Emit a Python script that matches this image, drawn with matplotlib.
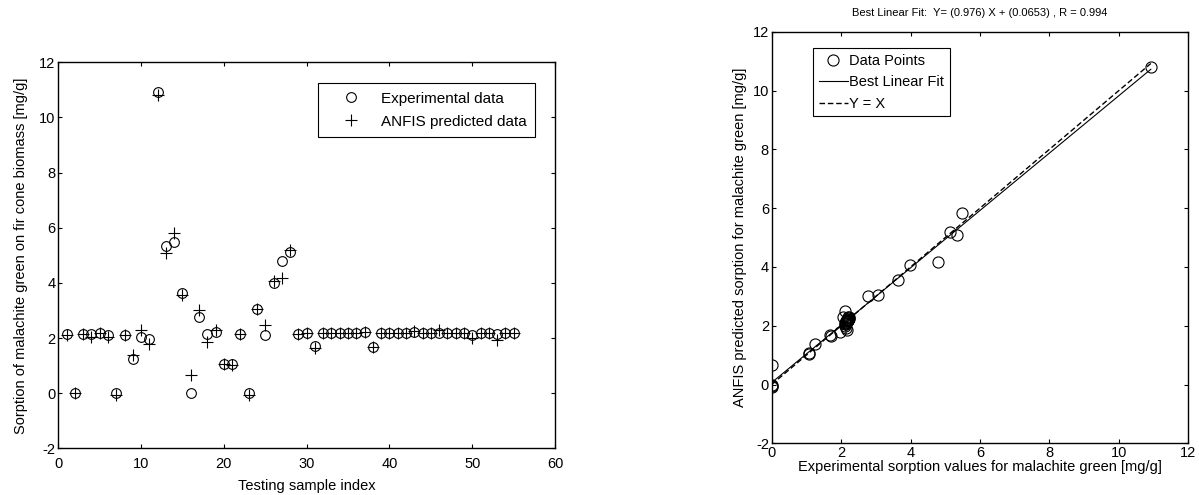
import numpy as np
import matplotlib.pyplot as plt

plt.rcParams['font.family'] = ['Liberation Sans', 'DejaVu Sans']
plt.rcParams['axes.unicode_minus'] = False

# measured vs ANFIS predicted sorption (mg/g) for the 55 testing samples
sample_idx = list(range(1, 56))
exp_data = [2.13, 0.0, 2.15, 2.15, 2.2, 2.1, 0.0, 2.1, 1.25, 2.04,
            1.96, 10.92, 5.33, 5.49, 3.64, 0.0, 2.76, 2.16, 2.22, 1.07,
            1.07, 2.15, 0.0, 3.05, 2.1, 3.98, 4.79, 5.13, 2.13, 2.2,
            1.71, 2.2, 2.18, 2.18, 2.2, 2.2, 2.22, 1.67, 2.2, 2.2,
            2.18, 2.2, 2.22, 2.18, 2.2, 2.2, 2.18, 2.2, 2.2, 2.1,
            2.2, 2.18, 2.15, 2.2, 2.2]
anfis_data = [2.1, 0.0, 2.15, 2.05, 2.2, 2.05, -0.08, 2.1, 1.38, 2.28,
              1.77, 10.8, 5.07, 5.82, 3.55, 0.67, 3.0, 1.86, 2.3, 1.07,
              1.03, 2.15, -0.05, 3.05, 2.49, 4.07, 4.18, 5.19, 2.13, 2.2,
              1.65, 2.2, 2.18, 2.18, 2.2, 2.2, 2.22, 1.67, 2.2, 2.2,
              2.18, 2.2, 2.26, 2.18, 2.2, 2.3, 2.18, 2.2, 2.2, 2.0,
              2.2, 2.18, 1.92, 2.2, 2.2]

# regression results
fit_slope = 0.976
fit_icpt = 0.0653
fit_r = 0.994


def matlab_axes(ax):
    ax.tick_params(direction='in', top=True, right=True, length=3,
                   width=0.8, labelsize=10.5, pad=2)
    for sp in ax.spines.values():
        sp.set_linewidth(1.0)


fig = plt.figure(figsize=(11.99, 4.95), dpi=100)

# left panel: sample index vs sorption
ax1 = fig.add_axes([0.0486, 0.0943, 0.4143, 0.7798])
ax1.plot(sample_idx, exp_data, 'o', mfc='none', mec='black', ms=7,
         mew=0.8, label='Experimental data')
ax1.plot(sample_idx, anfis_data, '+', color='black', ms=8, mew=0.8,
         label='ANFIS predicted data')
ax1.set_xlim(0, 60)
ax1.set_ylim(-2, 12)
ax1.set_xticks(range(0, 61, 10))
ax1.set_yticks(range(-2, 13, 2))
matlab_axes(ax1)
ax1.tick_params(axis='x', pad=6)
ax1.set_xlabel('Testing sample index', fontsize=10.5, labelpad=6)
ax1.set_ylabel('Sorption of malachite green on fir cone biomass [mg/g]',
               fontsize=10.5, labelpad=8)
leg1 = ax1.legend(loc='upper right', bbox_to_anchor=(0.96, 0.946),
                  borderaxespad=0, fancybox=False, edgecolor='black',
                  framealpha=1, fontsize=11, handlelength=3.3,
                  handletextpad=0.3, borderpad=0.55, labelspacing=0.6)
leg1.get_frame().set_linewidth(0.8)

# right panel: regression plot
ax2 = fig.add_axes([0.6436, 0.1044, 0.3475, 0.8315])
ax2.plot(exp_data, anfis_data, 'o', mfc='none', mec='black', ms=8,
         mew=0.8, label='Data Points')
xr = np.array([min(exp_data), max(exp_data)])
ax2.plot(xr, fit_slope * xr + fit_icpt, '-', color='black', lw=0.8,
         label='Best Linear Fit')
ax2.plot(xr, xr, '--', color='black', lw=1.0, dashes=(4, 2),
         label='Y = X')
ax2.set_xlim(0, 12)
ax2.set_ylim(-2, 12)
ax2.set_xticks(range(0, 13, 2))
ax2.set_yticks(range(-2, 13, 2))
matlab_axes(ax2)
ax2.set_xlabel('Experimental sorption values for malachite green [mg/g]',
               fontsize=10.5, labelpad=0)
ax2.set_ylabel('ANFIS predicted sorption for malachite green [mg/g]',
               fontsize=10.5, labelpad=4)
ax2.set_title('Best Linear Fit:  Y= (%.3f) X + (%.4f) , R = %.3f'
              % (fit_slope, fit_icpt, fit_r), fontsize=8, pad=11)
leg2 = ax2.legend(loc='upper left', bbox_to_anchor=(0.099, 0.96),
                  borderaxespad=0, fancybox=False, edgecolor='black',
                  framealpha=1, fontsize=10.5, handlelength=2.0,
                  handletextpad=0.1, borderpad=0.4, labelspacing=0.5)
leg2.get_frame().set_linewidth(0.8)

fig.savefig('out.png', dpi=100)
